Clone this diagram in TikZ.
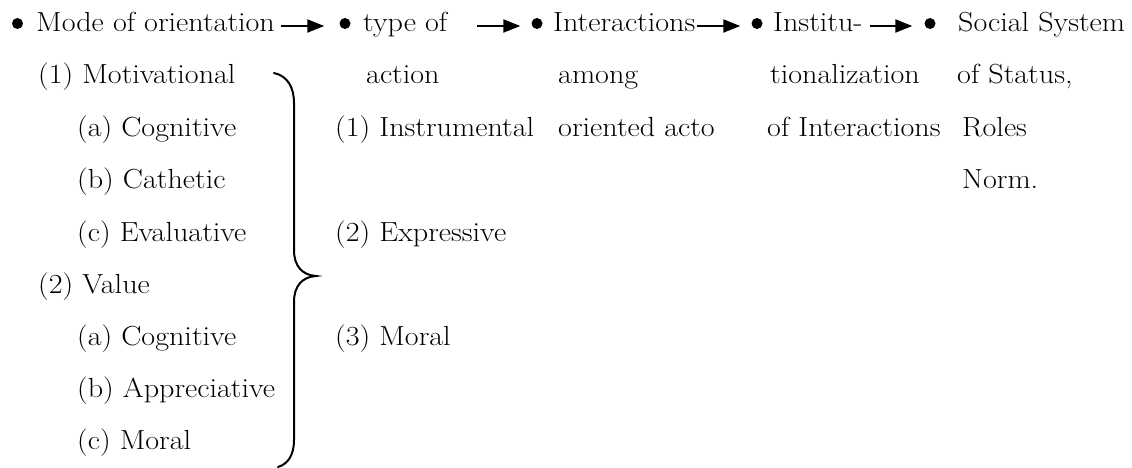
\documentclass[tikz,border=0pt]{standalone}
\usepackage{fontspec}
\setmainfont{Latin Modern Roman}[FakeStretch=1.09]
\usetikzlibrary{arrows.meta}
\begin{document}
\begin{tikzpicture}[x=1pt,y=-1pt,
  txt/.style={anchor=base west,inner sep=0pt,font=\fontsize{27.6}{30}\selectfont},
  dot/.style={circle,fill=black,inner sep=0pt,minimum size=11pt},
  arr/.style={line width=2pt,-{Triangle[length=17pt,width=13pt]}},
  bracepath/.style={line width=2pt,line cap=round}]
\useasboundingbox (0,0) rectangle (1132,468);
% row 1
\node[dot] (b1) at (17.5,23.5) {};
\node[txt] (mode) at (36,32) {Mode of orientation};
\node[dot] (b2) at (345,23.5) {};
\node[txt] (type) at (363,32) {type of};
\node[dot] (b3) at (537,23.5) {};
\node[txt] (inter) at (553,32) {Interactions};
\node[dot] (b4) at (757,23.5) {};
\node[txt] (inst) at (773,32) {Institu-};
\node[dot] (b5) at (930,23.5) {};
\node[txt] (soc) at (958,32) {Social System};
% arrows
\coordinate (a1) at (281,26);
\coordinate (a2) at (477,26);
\coordinate (a3) at (697,26);
\coordinate (a4) at (870,26);
\draw[arr] (a1) -- ([xshift=-15pt]b2.west |- a1);
\draw[arr] (a2) -- ([xshift=-11pt]b3.west |- a2);
\draw[arr] (a3) -- ([xshift=-11pt]b4.west |- a3);
\draw[arr] (a4) -- ([xshift=-12pt]b5.west |- a4);
% column 1
\node[txt] (mot) at (38,84) {(1) Motivational};
\node[txt] (cog1) at (77,136) {(a) Cognitive};
\node[txt] (cat) at (77,188) {(b) Cathetic};
\node[txt] (eva) at (77,241) {(c) Evaluative};
\node[txt] (val) at (38,293) {(2) Value};
\node[txt] (cog2) at (77,345) {(a) Cognitive};
\node[txt] (app) at (77,397) {(b) Appreciative};
\node[txt] (mor) at (77,449) {(c) Moral};
% column 2
\node[txt] (act) at (366,84) {action};
\node[txt] (ins) at (335,136) {(1) Instrumental};
\node[txt] (exp) at (335,241) {(2) Expressive};
\node[txt] (mor2) at (335,345) {(3) Moral};
% column 3
\node[txt] (amo) at (558,84) {among};
\node[txt] (ori) at (558,136) {oriented acto};
% column 4
\node[txt] (tio) at (770,84) {tionalization};
\node[txt] (ofi) at (767,136) {of Interactions};
% column 5
\node[txt] (sta) at (957,84) {of Status,};
\node[txt] (rol) at (962,136) {Roles};
\node[txt] (nor) at (962,188) {Norm.};
% brace
\draw[bracepath] (274,73) .. controls (288,76) and (294,88) .. (294,103)
  -- (294,250) .. controls (294,266) and (302,275) .. (316,276)
  .. controls (302,277) and (294,286) .. (294,302)
  -- (294,440) .. controls (294,455) and (288,464) .. (278,467);
\end{tikzpicture}
\end{document}
